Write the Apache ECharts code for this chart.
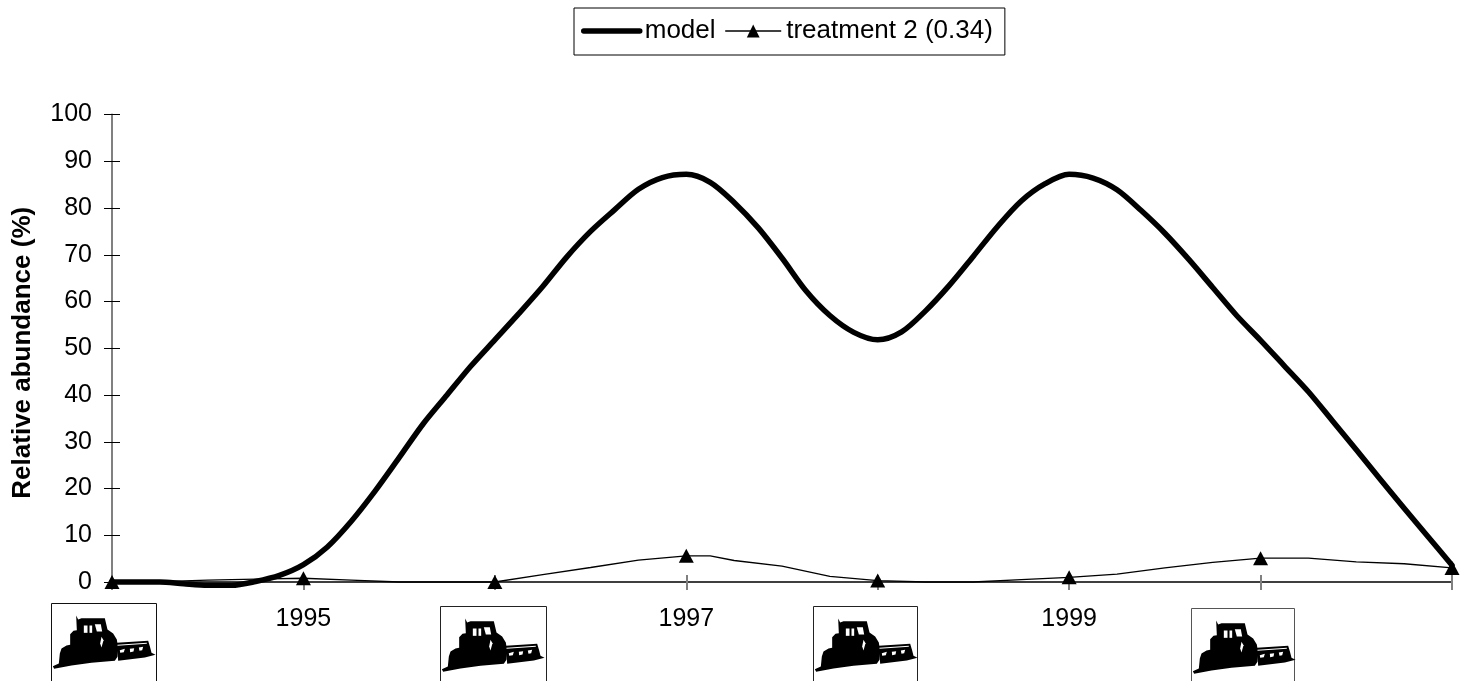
<!DOCTYPE html>
<html>
<head>
<meta charset="utf-8">
<style>html,body{margin:0;padding:0;background:#fff}#c{width:1470px;height:681px}</style>
<script src="https://cdn.jsdelivr.net/npm/echarts@6/dist/echarts.min.js"></script>
</head>
<body>
<div id="c"></div>
<script>
// eighth-of-a-year steps from 1994 to 2001
const modelValues = [0,0,0,-0.4,-0.7,-0.7,0.1,1.4,3.7,7.5,13,19.5,26.6,33.8,40,46.2,51.8,57.4,63.2,69.5,75,79.6,84,86.5,87.2,85.5,81.2,75.8,69.3,62.3,57,53.4,51.8,53.5,58,63.5,69.7,76,81.5,85.2,87.2,86.4,83.9,79.5,74.6,69,63,57,51.7,46.2,40.7,34.5,28.3,22,15.8,9.7,3.6];
const treatmentYears = [1994,1994.25,1994.5,1994.75,1995,1995.25,1995.5,1995.75,1996,1996.25,1996.5,1996.75,1997,1997.125,1997.25,1997.5,1997.75,1998,1998.25,1998.5,1998.75,1999,1999.25,1999.5,1999.75,2000,2000.25,2000.5,2000.75,2001];
const treatmentValues = [0,0.1,0.4,0.6,0.8,0.4,0,0,0,1.6,3.1,4.7,5.6,5.6,4.6,3.4,1.2,0.3,0,0,0.5,1,1.7,3,4.2,5.1,5.1,4.3,3.9,3];
const sampledYears = [1994,1995,1996,1997,1998,1999,2000,2001];
const xTickLabels = [1995,1997,1999];
const yTickLabels = [0,10,20,30,40,50,60,70,80,90,100];
const seriesNames = ['model','treatment 2 (0.34)'];
const axisTitle = 'Relative abundance (%)';
const tillageBoxes = [[51,603,105,'#111'],[440,606,106,'#222'],[813,606,104,'#222'],[1191,608,103,'#555']];

const FONT = '"Liberation Sans", Arial, sans-serif';
const modelData = modelValues.map((v,i)=>[1994+i/8,v]);
const treatmentData = treatmentValues.map((v,i)=>({
  value:[treatmentYears[i],v],
  symbol: sampledYears.includes(treatmentYears[i]) ? 'triangle' : 'none'
}));

// tractor silhouette, in units of 1/3 px relative to box corner
const body = [[4,188],[22,180],[25,150],[30,135],[45,126],[56,124],[56,92],[66,82],[76,80],[74,36],[80,48],[90,44],[160,44],[168,78],[185,90],[196,108],[200,135],[198,160],[190,172],[120,178],[60,186],[8,196]];
const bar = [[196,118],[290,112],[296,132],[300,148],[312,154],[280,162],[200,172]];
const windows = [[[97,66],[108,66],[108,88],[97,88]],[[114,66],[122,66],[122,88],[114,88]],[[130,62],[148,62],[152,84],[136,84]],[[205,140],[220,136],[217,146],[206,148]],[[235,136],[248,134],[246,144],[236,146]],[[262,132],[275,130],[272,140],[264,142]],[[150,100],[156,110],[150,132],[146,120]],[[198,124],[286,118],[286,121],[198,127]]];
const tr = pts => pts.map(p=>[p[0]/3,p[1]/3]);
const graphics = tillageBoxes.map(b=>({
  type:'group', x:b[0]+0.5, y:b[1]+0.5, silent:true,
  children:[
    {type:'rect', shape:{x:0,y:0,width:b[2],height:95}, style:{fill:'#fff',stroke:b[3],lineWidth:1}},
    {type:'polygon', shape:{points:tr(body)}, style:{fill:'#000'}},
    {type:'polygon', shape:{points:tr(bar)}, style:{fill:'#000'}},
    ...windows.map(w=>({type:'polygon', shape:{points:tr(w)}, style:{fill:'#fff'}}))
  ]
}));

const chart = echarts.init(document.getElementById('c'));
const text = {color:'#000',fontFamily:FONT,fontSize:26};
const tick = Object.assign({},text,{fontSize:25});
chart.setOption({
  animation:false,
  backgroundColor:'#fff',
  grid:{left:112,top:114.5,width:1340,height:467.5,containLabel:false},
  legend:{
    left:574, top:8, orient:'horizontal',
    data:[
      {name:seriesNames[0],itemStyle:{color:'transparent',borderWidth:0},lineStyle:{color:'#000',width:5.5,cap:'round'}},
      {name:seriesNames[1],itemStyle:{color:'#000'},lineStyle:{color:'#000',width:1.3}}
    ],
    itemWidth:56, itemHeight:16, itemGap:9,
    padding:[10,12,11,7],
    borderColor:'#000', borderWidth:1,
    textStyle:text,
    selectedMode:false
  },
  tooltip:{show:false},
  xAxis:[
    {type:'value',min:1994,max:2001,interval:1,splitLine:{show:false},
     axisLine:{show:true,onZero:false,lineStyle:{color:'#000',width:1.5}},
     axisTick:{show:true,length:8,lineStyle:{color:'#808080',width:2}},
     axisLabel:Object.assign({},tick,{margin:25,hideOverlap:false,
       formatter:v=>xTickLabels.includes(v)?String(v):''})},
    {type:'value',min:1994,max:2001,interval:1,position:'bottom',splitLine:{show:false},
     axisLine:{show:false,onZero:false},
     axisTick:{show:true,inside:true,length:7,lineStyle:{color:'#808080',width:2}},
     axisLabel:{show:false}}
  ],
  yAxis:[
    {type:'value',min:0,max:100,interval:10,splitLine:{show:false},
     name:axisTitle,nameLocation:'middle',nameGap:76,
     nameTextStyle:Object.assign({},text,{fontWeight:'bold',padding:[0,9,0,0]}),
     axisLine:{show:true,onZero:false,lineStyle:{color:'#808080',width:2}},
     axisTick:{show:true,length:8,lineStyle:{color:'#000',width:1}},
     axisLabel:Object.assign({},tick,{margin:20,formatter:v=>yTickLabels.includes(v)?String(v):''})},
    {type:'value',min:0,max:100,interval:10,position:'left',splitLine:{show:false},
     axisLine:{show:false,onZero:false},
     axisTick:{show:true,inside:true,length:8,lineStyle:{color:'#000',width:1}},
     axisLabel:{show:false}}
  ],
  series:[
    {name:seriesNames[0],type:'line',data:modelData,xAxisIndex:0,yAxisIndex:0,clip:false,
     showSymbol:false,symbol:'none',smooth:0.3,z:3,
     lineStyle:{color:'#000',width:5.5,cap:'round',join:'round'},itemStyle:{color:'#000'}},
    {name:seriesNames[1],type:'line',data:treatmentData,xAxisIndex:0,yAxisIndex:0,clip:false,
     symbol:'triangle',symbolSize:[15,14],showAllSymbol:true,z:4,
     lineStyle:{color:'#000',width:1.3},itemStyle:{color:'#000'}}
  ],
  graphic:graphics
});
</script>
</body>
</html>
